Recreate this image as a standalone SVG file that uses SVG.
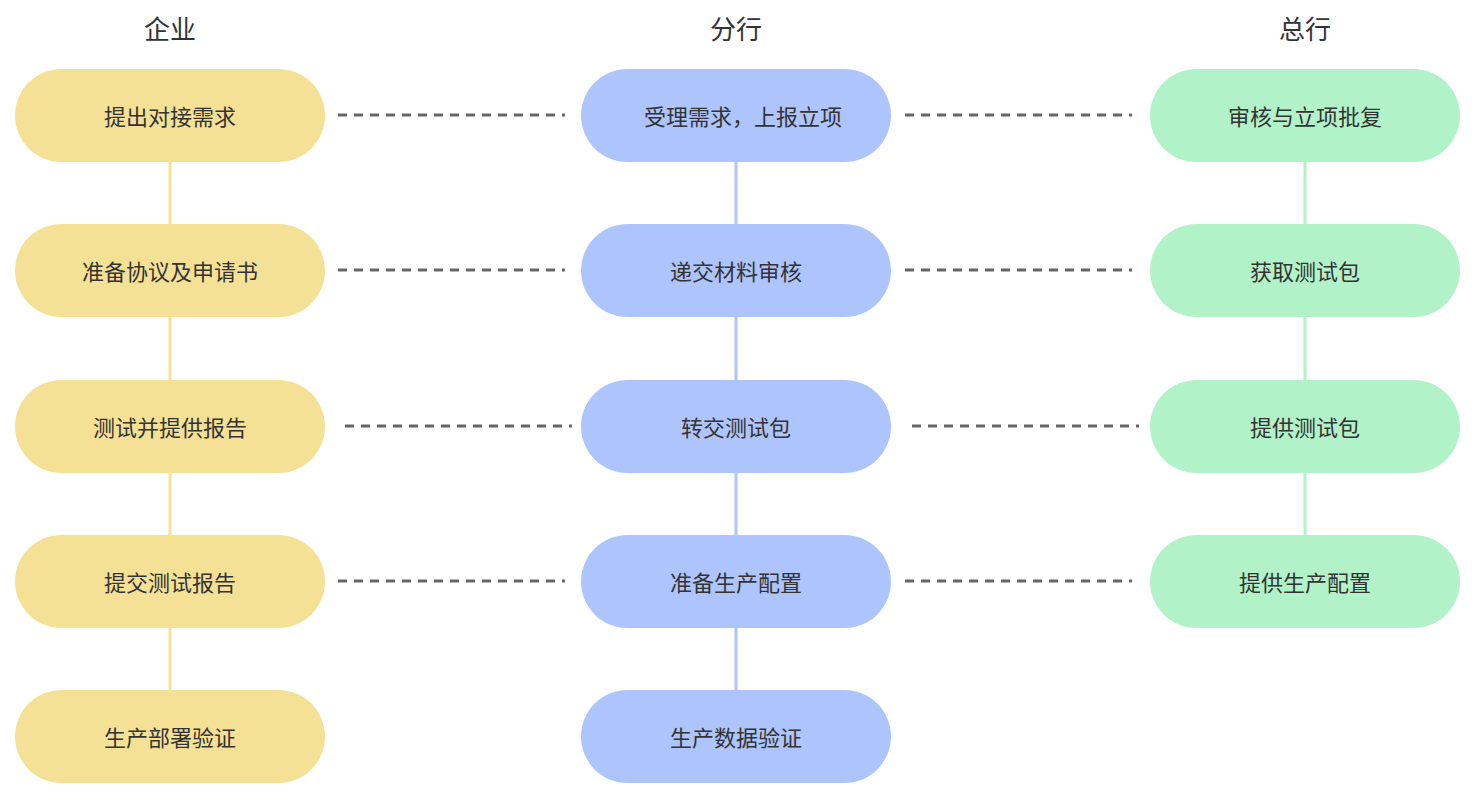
<svg xmlns="http://www.w3.org/2000/svg" width="1474" height="801" viewBox="0 0 1474 801">
<style>
text{font-family:"Noto Sans CJK SC","Noto Sans",sans-serif;fill:#333;text-anchor:middle;dominant-baseline:central}
.t{font-size:26px}
.n{font-size:22px}
.y{fill:#f5e196}.b{fill:#aec4fd}.g{fill:#b2f2c9}
.d{stroke:#666;stroke-width:3;stroke-dasharray:9 7;fill:none}
</style>
<rect width="1474" height="801" fill="#fff"/>
<text class="t" x="170" y="27">企业</text>
<text class="t" x="736" y="27">分行</text>
<text class="t" x="1305" y="27">总行</text>
<g id="connectors">
<line x1="170" y1="160" x2="170" y2="692" stroke="#f5e196" stroke-width="3"/>
<line x1="736" y1="160" x2="736" y2="692" stroke="#aec4fd" stroke-width="3"/>
<line x1="1305" y1="160" x2="1305" y2="537" stroke="#b2f2c9" stroke-width="3"/>
<line class="d" x1="338" y1="115" x2="565" y2="115"/>
<line class="d" x1="905" y1="115" x2="1132" y2="115"/>
<line class="d" x1="338" y1="270" x2="565" y2="270"/>
<line class="d" x1="905" y1="270" x2="1132" y2="270"/>
<line class="d" x1="345" y1="426" x2="572" y2="426"/>
<line class="d" x1="912" y1="426" x2="1139" y2="426"/>
<line class="d" x1="338" y1="581" x2="565" y2="581"/>
<line class="d" x1="905" y1="581" x2="1132" y2="581"/>
</g>
<g id="a1"><rect class="y" x="15" y="69" width="310" height="93" rx="46.5"/><text class="n" x="170" y="115">提出对接需求</text></g>
<g id="a2"><rect class="y" x="15" y="224" width="310" height="93" rx="46.5"/><text class="n" x="170" y="270">准备协议及申请书</text></g>
<g id="a3"><rect class="y" x="15" y="380" width="310" height="93" rx="46.5"/><text class="n" x="170" y="426">测试并提供报告</text></g>
<g id="a4"><rect class="y" x="15" y="535" width="310" height="93" rx="46.5"/><text class="n" x="170" y="581">提交测试报告</text></g>
<g id="a5"><rect class="y" x="15" y="690" width="310" height="93" rx="46.5"/><text class="n" x="170" y="736">生产部署验证</text></g>
<g id="b1"><rect class="b" x="581" y="69" width="310" height="93" rx="46.5"/><text class="n" x="743" y="115">受理需求，上报立项</text></g>
<g id="b2"><rect class="b" x="581" y="224" width="310" height="93" rx="46.5"/><text class="n" x="736" y="270">递交材料审核</text></g>
<g id="b3"><rect class="b" x="581" y="380" width="310" height="93" rx="46.5"/><text class="n" x="736" y="426">转交测试包</text></g>
<g id="b4"><rect class="b" x="581" y="535" width="310" height="93" rx="46.5"/><text class="n" x="736" y="581">准备生产配置</text></g>
<g id="b5"><rect class="b" x="581" y="690" width="310" height="93" rx="46.5"/><text class="n" x="736" y="736">生产数据验证</text></g>
<g id="c1"><rect class="g" x="1150" y="69" width="310" height="93" rx="46.5"/><text class="n" x="1305" y="115">审核与立项批复</text></g>
<g id="c2"><rect class="g" x="1150" y="224" width="310" height="93" rx="46.5"/><text class="n" x="1305" y="270">获取测试包</text></g>
<g id="c3"><rect class="g" x="1150" y="380" width="310" height="93" rx="46.5"/><text class="n" x="1305" y="426">提供测试包</text></g>
<g id="c4"><rect class="g" x="1150" y="535" width="310" height="93" rx="46.5"/><text class="n" x="1305" y="581">提供生产配置</text></g>
</svg>
